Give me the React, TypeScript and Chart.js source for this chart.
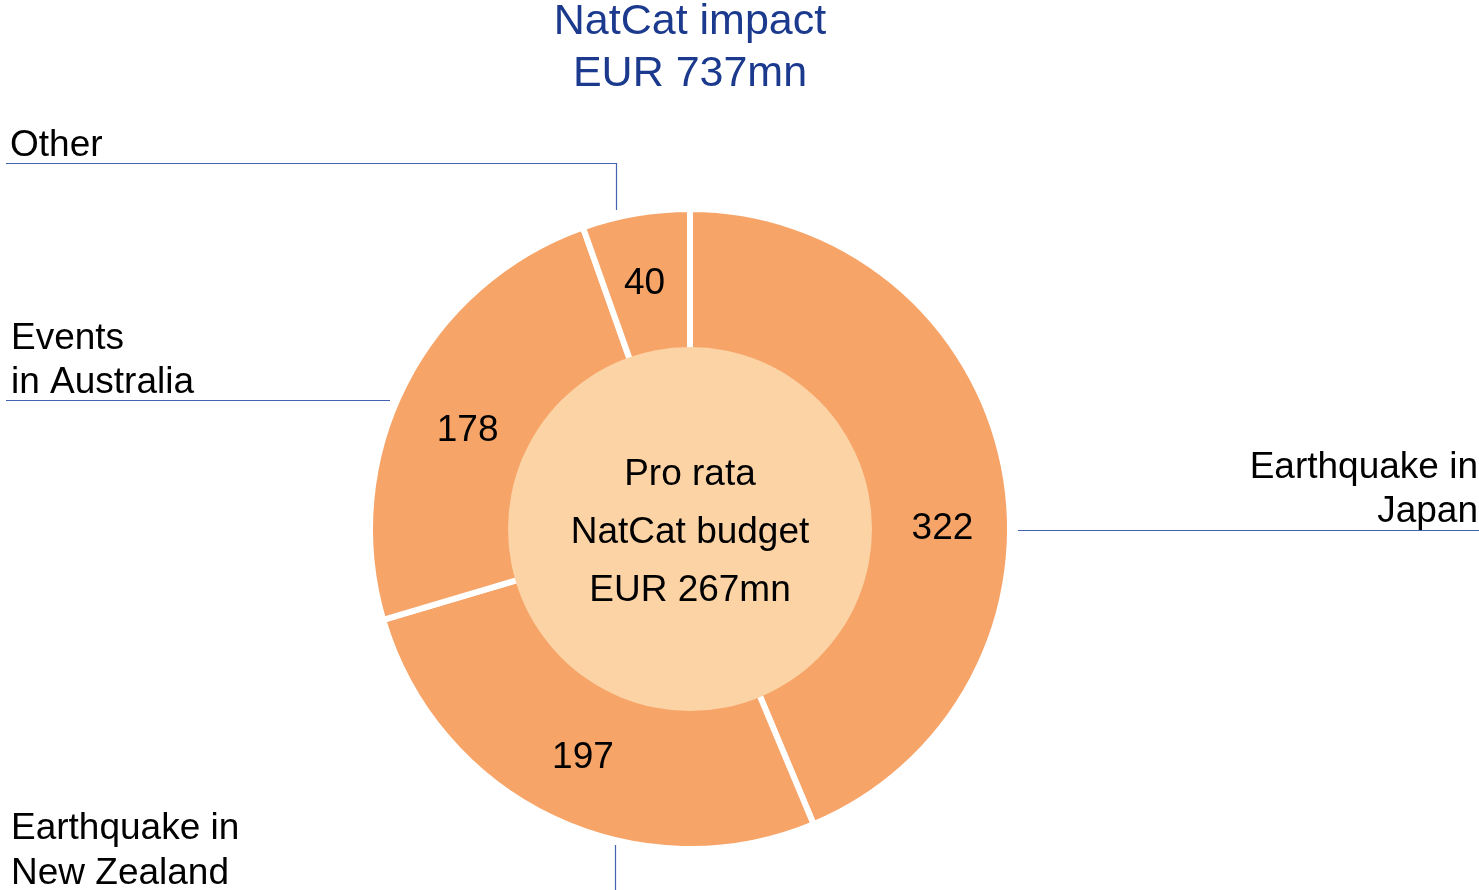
import React, { useEffect, useRef } from 'react';
import { Chart, registerables } from 'chart.js';

Chart.register(...registerables);

// ---- data ----
const categories = ['Earthquake in Japan', 'Earthquake in New Zealand', 'Events in Australia', 'Other'];
const values = [322, 197, 178, 40];
const categoryLabelLines = [['Earthquake in', 'Japan'], ['Earthquake in', 'New Zealand'], ['Events', 'in Australia'], ['Other']];
const titleLines = ['NatCat impact', 'EUR 737mn'];
const centerLines = ['Pro rata', 'NatCat budget', 'EUR 267mn'];

// ---- style / layout ----
const W = 1479;
const H = 890;
const RING = '#F7A468';
const CENTER_FILL = '#FCD3A5';
const TITLE_COLOR = '#1B3A8E';
const LEADER = '#4363B0';
const FONT = '"Liberation Sans", Arial, sans-serif';
const INNER_R = 182;
const BORDER = 6;
const TEXT_DY = 3;
// where along each arc (0..1) its value label sits, and radial nudge
const labelFraction = [0.568, 0.5, 0.472, 0.47];
const labelRadiusShift = [3, 0, -5, 3];

type TextSpec = { x: number; y: number[]; align: CanvasTextAlign };
const labelText: TextSpec[] = [
  { x: 1478, y: [465, 509], align: 'right' },
  { x: 11, y: [826, 871], align: 'left' },
  { x: 11, y: [336, 380], align: 'left' },
  { x: 10, y: [143], align: 'left' },
];
const leaderLines: number[][][] = [
  [[1018, 530.5], [1479, 530.5]],
  [[615.5, 845], [615.5, 890]],
  [[6, 400.5], [390, 400.5]],
  [[6, 163.5], [616.5, 163.5], [616.5, 210]],
];

const annotationPlugin = {
  id: 'annotations',
  afterDatasetsDraw(chart: any) {
    const ctx: CanvasRenderingContext2D = chart.ctx;
    const meta = chart.getDatasetMeta(0);
    const first = meta.data[0];
    const cx = first.x;
    const cy = first.y;
    ctx.save();
    // center disc
    ctx.beginPath();
    ctx.arc(cx, cy, INNER_R, 0, Math.PI * 2);
    ctx.fillStyle = CENTER_FILL;
    ctx.fill();

    ctx.textBaseline = 'middle';
    ctx.font = `37px ${FONT}`;
    ctx.fillStyle = '#000';
    // value labels
    meta.data.forEach((arc: any, i: number) => {
      const p = arc.getProps(['startAngle', 'endAngle', 'outerRadius'], true);
      const a = p.startAngle + (p.endAngle - p.startAngle) * labelFraction[i];
      const r = (INNER_R + p.outerRadius - BORDER / 2) / 2 + labelRadiusShift[i];
      ctx.textAlign = 'center';
      ctx.fillText(String(values[i]), cx + Math.cos(a) * r, cy + Math.sin(a) * r + TEXT_DY);
    });

    // center text
    ctx.textAlign = 'center';
    centerLines.forEach((t, i) => ctx.fillText(t, cx, 472 + i * 58 + TEXT_DY));

    // title
    ctx.font = `43px ${FONT}`;
    ctx.fillStyle = TITLE_COLOR;
    titleLines.forEach((t, i) => ctx.fillText(t, cx, 19 + i * 52 + TEXT_DY));

    // category labels
    ctx.font = `37px ${FONT}`;
    ctx.fillStyle = '#000';
    categoryLabelLines.forEach((lines, i) => {
      const spec = labelText[i];
      ctx.textAlign = spec.align;
      lines.forEach((t, j) => ctx.fillText(t, spec.x, spec.y[j] + TEXT_DY));
    });

    // leader lines
    ctx.strokeStyle = LEADER;
    ctx.lineWidth = 1.2;
    leaderLines.forEach((pts) => {
      ctx.beginPath();
      pts.forEach(([x, y], k) => (k === 0 ? ctx.moveTo(x, y) : ctx.lineTo(x, y)));
      ctx.stroke();
    });
    ctx.restore();
  },
};

export default function App() {
  const ref = useRef<HTMLCanvasElement | null>(null);
  useEffect(() => {
    if (!ref.current) return;
    const chart = new Chart(ref.current, {
      type: 'doughnut',
      data: {
        labels: categories,
        datasets: [
          {
            data: values,
            backgroundColor: RING,
            borderColor: '#FFFFFF',
            borderWidth: BORDER,
            hoverOffset: 0,
          },
        ],
      },
      options: {
        animation: false,
        responsive: false,
        devicePixelRatio: 1,
        cutout: '55%',
        rotation: 0,
        layout: { padding: { left: 367, top: 206, right: 466, bottom: 38 } },
        plugins: {
          legend: { display: false },
          tooltip: { enabled: false },
          title: { display: false },
        },
        events: [],
      },
      plugins: [annotationPlugin],
    });
    return () => chart.destroy();
  }, []);
  return (
    <div style={{ position: 'absolute', left: 0, top: 0, width: W, height: H, background: '#fff' }}>
      <canvas ref={ref} width={W} height={H} style={{ display: 'block', width: W, height: H }} />
    </div>
  );
}
